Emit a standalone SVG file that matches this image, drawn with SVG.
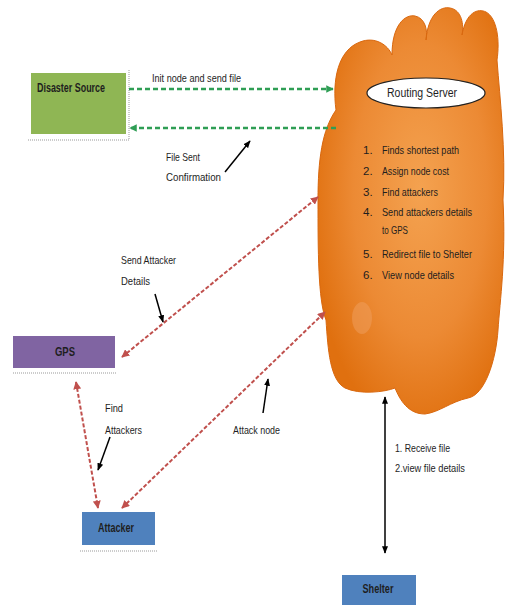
<svg xmlns="http://www.w3.org/2000/svg" width="506" height="605" viewBox="0 0 506 605">
<style>
  text { font-family: "Liberation Sans", Arial, sans-serif; fill: #1e1e1e; }
  .lbl { font-size: 11.5px; }
  .bold { font-size: 12px; font-weight: bold; }
  .green { stroke: #2f9e55; stroke-width: 2.5; stroke-dasharray: 5 3; fill: none; }
  .red { stroke: #c0504d; stroke-width: 2; stroke-dasharray: 4 2; fill: none; }
  .blk { stroke: #000; stroke-width: 1.5; fill: none; }
  .dot { stroke: #999; stroke-width: 1; stroke-dasharray: 1 1; fill: none; }
</style>
<defs>
  <marker id="gh" viewBox="0 0 10 10" refX="9" refY="5" markerWidth="3" markerHeight="3" orient="auto-start-reverse">
    <path d="M0,0 L10,5 L0,10 Z" fill="#2f9e55"/>
  </marker>
  <marker id="rh" viewBox="0 0 10 10" refX="9" refY="5" markerWidth="4" markerHeight="4" orient="auto-start-reverse">
    <path d="M0,0 L10,5 L0,10 Z" fill="#c0504d"/>
  </marker>
  <marker id="bh" viewBox="0 0 10 10" refX="9" refY="5" markerWidth="5" markerHeight="5" orient="auto-start-reverse">
    <path d="M0,1 L10,5 L0,9 Z" fill="#000"/>
  </marker>
  <radialGradient id="cg" cx="0.55" cy="0.45" r="0.6">
    <stop offset="0" stop-color="#f4a250"/>
    <stop offset="0.6" stop-color="#ec8a34"/>
    <stop offset="1" stop-color="#e0700f"/>
  </radialGradient>
</defs>

<g id="routing-server">
  <path d="M336 110 C332 80 338 50 360 42 C375 36 388 45 392 55 C392 25 405 14 415 16 C425 18 428 30 426 40 C428 15 440 6 450 8 C462 10 464 25 462 35 C466 12 478 8 486 12 C497 18 500 40 497 60 C500 100 506 150 503 200 C506 260 500 300 498 330 C496 360 485 395 468 398 C450 402 440 412 425 414 C408 414 400 400 395 388 C385 392 360 395 345 388 C330 380 328 350 326 320 C318 300 318 250 318 200 C318 160 322 130 336 110 Z" fill="url(#cg)" stroke="#d9680f" stroke-width="1"/>
  <ellipse cx="362" cy="318" rx="10" ry="16" fill="#f0a060" opacity="0.5"/>
  <ellipse cx="426" cy="93" rx="59" ry="15" fill="#fff" stroke="#222" stroke-width="1.2"/>
  <text x="422" y="97" text-anchor="middle" textLength="70" lengthAdjust="spacingAndGlyphs" style="font-size:12.5px">Routing Server</text>
  <g class="lbl">
    <text x="363" y="154">1.</text><text x="382" y="154" textLength="77" lengthAdjust="spacingAndGlyphs">Finds shortest path</text>
    <text x="363" y="175">2.</text><text x="382" y="175" textLength="67" lengthAdjust="spacingAndGlyphs">Assign node cost</text>
    <text x="363" y="196">3.</text><text x="382" y="196" textLength="56" lengthAdjust="spacingAndGlyphs">Find attackers</text>
    <text x="363" y="216">4.</text><text x="382" y="216" textLength="90" lengthAdjust="spacingAndGlyphs">Send attackers  details</text>
    <text x="382" y="234" textLength="26" lengthAdjust="spacingAndGlyphs">to GPS</text>
    <text x="363" y="258">5.</text><text x="382" y="258" textLength="90" lengthAdjust="spacingAndGlyphs">Redirect file to Shelter</text>
    <text x="363" y="279">6.</text><text x="382" y="279" textLength="72" lengthAdjust="spacingAndGlyphs">View node details</text>
  </g>
</g>

<g id="disaster-source">
  <path class="dot" d="M28 140 H129 V70"/>
  <rect x="31" y="73" width="95" height="61" fill="#8fb654"/>
  <text class="bold" x="37" y="92" textLength="68" lengthAdjust="spacingAndGlyphs">Disaster Source</text>
</g>

<g id="gps">
  <path class="dot" d="M13 373 H117"/>
  <rect x="13" y="336" width="102" height="32" fill="#8064a2"/>
  <text class="bold" x="65" y="356" text-anchor="middle" textLength="20" lengthAdjust="spacingAndGlyphs">GPS</text>
</g>

<g id="attacker">
  <path class="dot" d="M80 551 H158"/>
  <rect x="82" y="512" width="73" height="33" fill="#4f81bd"/>
  <text class="bold" x="116" y="532" text-anchor="middle" textLength="36" lengthAdjust="spacingAndGlyphs">Attacker</text>
</g>

<g id="shelter">
  <rect x="342" y="575" width="74" height="32" fill="#4f81bd"/>
  <text class="bold" x="378" y="593" text-anchor="middle" textLength="31" lengthAdjust="spacingAndGlyphs">Shelter</text>
</g>

<g id="connectors">
  <line class="green" x1="129" y1="89" x2="333" y2="89" marker-end="url(#gh)"/>
  <line class="green" x1="336" y1="128" x2="130" y2="128" marker-end="url(#gh)"/>
  <line class="red" x1="122" y1="357" x2="318" y2="197" marker-start="url(#rh)" marker-end="url(#rh)"/>
  <line class="red" x1="122" y1="508" x2="325" y2="312" marker-start="url(#rh)" marker-end="url(#rh)"/>
  <line class="red" x1="76" y1="382" x2="98" y2="508" marker-start="url(#rh)" marker-end="url(#rh)"/>
  <line class="blk" x1="385" y1="397" x2="385" y2="553" marker-start="url(#bh)" marker-end="url(#bh)"/>
  <line class="blk" x1="225" y1="172" x2="250" y2="141" marker-end="url(#bh)"/>
  <line class="blk" x1="155" y1="294" x2="163" y2="322" marker-end="url(#bh)"/>
  <line class="blk" x1="110" y1="437" x2="98" y2="470" marker-end="url(#bh)"/>
  <line class="blk" x1="263" y1="413" x2="268" y2="379" marker-end="url(#bh)"/>
</g>

<g id="labels" class="lbl">
  <text x="152" y="82" textLength="89" lengthAdjust="spacingAndGlyphs">Init node and send file</text>
  <text x="166" y="161" textLength="34" lengthAdjust="spacingAndGlyphs">File Sent</text>
  <text x="166" y="181" textLength="55" lengthAdjust="spacingAndGlyphs">Confirmation</text>
  <text x="121" y="264" textLength="55" lengthAdjust="spacingAndGlyphs">Send Attacker</text>
  <text x="121" y="285" textLength="29" lengthAdjust="spacingAndGlyphs">Details</text>
  <text x="105" y="412" textLength="18" lengthAdjust="spacingAndGlyphs">Find</text>
  <text x="105" y="434" textLength="37" lengthAdjust="spacingAndGlyphs">Attackers</text>
  <text x="233" y="434" textLength="47" lengthAdjust="spacingAndGlyphs">Attack node</text>
  <text x="395" y="452" textLength="55" lengthAdjust="spacingAndGlyphs">1. Receive file</text>
  <text x="395" y="472" textLength="70" lengthAdjust="spacingAndGlyphs">2.view file details</text>
</g>
</svg>
